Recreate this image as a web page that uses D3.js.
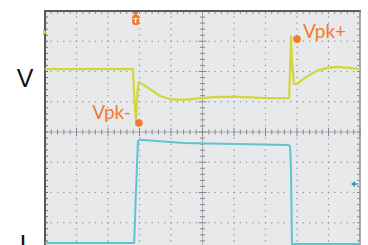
<!DOCTYPE html>
<html><head><meta charset="utf-8">
<script src="https://cdn.jsdelivr.net/npm/d3@7/dist/d3.min.js"></script>
<style>html,body{margin:0;padding:0;background:#fff;}svg{display:block;}</style>
</head><body>
<svg id="c" width="368" height="245"></svg>
<script>
// time in screen divisions, values in vertical divisions
const vTime = [0, 2.79, 2.84, 2.89, 2.94, 2.98, 3.08, 3.33, 3.65, 3.97, 4.41, 4.92, 5.46, 6.19, 7.05, 7.75, 7.79, 7.81, 7.84, 7.9, 8.0, 8.25, 8.63, 8.95, 9.27, 9.68, 10];
const vVals = [2.08, 2.08, 1.06, 0.36, 1.39, 1.65, 1.59, 1.42, 1.19, 1.09, 1.06, 1.12, 1.16, 1.16, 1.12, 1.12, 2.38, 3.17, 2.38, 1.59, 1.59, 1.79, 2.02, 2.12, 2.15, 2.12, 2.08];
const iTime = [0, 2.83, 2.89, 2.95, 3.02, 4.41, 7.71, 7.78, 7.81, 7.84, 10];
const iVals = [-3.67, -3.67, -1.92, -0.3, -0.26, -0.36, -0.43, -0.46, -1.26, -3.7, -3.7];
const peakLabels = ["Vpk+", "Vpk-"];
const peakTimes = [8.0, 2.98];
const peakVals = [3.07, 0.3];
const channelLabels = ["V", "I"];
const xDivs = d3.range(0, 10.001, 1);
const yDivs = d3.range(-4, 4.001, 1);

const svg = d3.select("#c");
const x = d3.scaleLinear().domain([0, 10]).range([45, 360]);
const y = d3.scaleLinear().domain([-4, 4]).range([253, 11]);

svg.append("rect").attr("x", x(0)).attr("y", y(4)).attr("width", x(10) - x(0)).attr("height", y(-4) - y(4)).attr("fill", "#e8e9eb");

const minorX = d3.range(0, 10.001, 0.2);
const minorY = d3.range(-4, 4.001, 0.2);
const g = svg.append("g");
// dotted grid
xDivs.filter(d => d > 0 && d < 10 && d !== 5).forEach(d => {
  g.selectAll(null).data(minorY).enter().append("rect")
    .attr("x", x(d) - 0.6).attr("y", v => y(v) - 0.6).attr("width", 1.2).attr("height", 1.2).attr("fill", "#8d8f93");
});
yDivs.filter(d => d > -4 && d < 4 && d !== 0).forEach(d => {
  g.selectAll(null).data(minorX).enter().append("rect")
    .attr("x", t => x(t) - 0.6).attr("y", y(d) - 0.6).attr("width", 1.2).attr("height", 1.2).attr("fill", "#8d8f93");
});
// center axes
g.append("line").attr("x1", x(0)).attr("x2", x(10)).attr("y1", y(0)).attr("y2", y(0)).attr("stroke", "#a9abaf").attr("stroke-width", 1);
g.append("line").attr("x1", x(5)).attr("x2", x(5)).attr("y1", y(4)).attr("y2", y(-4)).attr("stroke", "#a9abaf").attr("stroke-width", 1);
g.selectAll(null).data(minorX).enter().append("line")
  .attr("x1", t => x(t)).attr("x2", t => x(t))
  .attr("y1", t => y(0) - (Math.abs(t - Math.round(t)) < 1e-6 ? 4 : 2.5))
  .attr("y2", t => y(0) + (Math.abs(t - Math.round(t)) < 1e-6 ? 4 : 2.5))
  .attr("stroke", "#85878b").attr("stroke-width", 1);
g.selectAll(null).data(minorY).enter().append("line")
  .attr("y1", v => y(v)).attr("y2", v => y(v))
  .attr("x1", v => x(5) - (Math.abs(v - Math.round(v)) < 1e-6 ? 4 : 2.5))
  .attr("x2", v => x(5) + (Math.abs(v - Math.round(v)) < 1e-6 ? 4 : 2.5))
  .attr("stroke", "#85878b").attr("stroke-width", 1);
// border ticks
g.selectAll(null).data(minorY).enter().append("line")
  .attr("y1", v => y(v)).attr("y2", v => y(v)).attr("x1", x(0)).attr("x2", x(0) + 3)
  .attr("stroke", "#6d6f73").attr("stroke-width", 1);
g.selectAll(null).data(minorY).enter().append("line")
  .attr("y1", v => y(v)).attr("y2", v => y(v)).attr("x1", x(10) - 3).attr("x2", x(10))
  .attr("stroke", "#8d8f93").attr("stroke-width", 1);
g.selectAll(null).data(minorX).enter().append("line")
  .attr("x1", t => x(t)).attr("x2", t => x(t)).attr("y1", y(4)).attr("y2", y(4) + 3)
  .attr("stroke", "#8d8f93").attr("stroke-width", 1);
// borders
g.append("line").attr("x1", x(0)).attr("x2", x(0)).attr("y1", y(4) - 1).attr("y2", 245).attr("stroke", "#58595c").attr("stroke-width", 2);
g.append("line").attr("x1", x(0) - 1).attr("x2", x(10) + 1).attr("y1", y(4)).attr("y2", y(4)).attr("stroke", "#58595c").attr("stroke-width", 2);
g.append("line").attr("x1", x(10)).attr("x2", x(10)).attr("y1", y(4)).attr("y2", 245).attr("stroke", "#8a8c90").attr("stroke-width", 1.5);

// traces
const line = d3.line().x(d => x(d[0])).y(d => y(d[1])).curve(d3.curveMonotoneX);
svg.append("path").datum(vTime.map((t, i) => [t, vVals[i]])).attr("d", d3.line().x(d => x(d[0])).y(d => y(d[1])))
  .attr("fill", "none").attr("stroke", "#d3d63a").attr("stroke-width", 2.2).attr("stroke-linejoin", "round");
svg.append("path").datum(iTime.map((t, i) => [t, iVals[i]])).attr("d", d3.line().x(d => x(d[0])).y(d => y(d[1])))
  .attr("fill", "none").attr("stroke", "#5cc5cf").attr("stroke-width", 2).attr("stroke-linejoin", "round");

// channel markers
svg.append("path").attr("d", `M${x(0)-2},${y(3.3)-3}L${x(0)+2},${y(3.3)}L${x(0)-2},${y(3.3)+3}Z`).attr("fill", "#d3d63a");
svg.append("path").attr("d", `M${x(10)-9},${y(-1.72)}L${x(10)-5},${y(-1.72)-3}L${x(10)-5},${y(-1.72)+3}Z M${x(10)-6},${y(-1.72)-0.7}h4v1.4h-4Z`).attr("fill", "#2f9aa6");

// trigger marker
const tx = x(2.88);
svg.append("path").attr("d", `M${tx-3},${y(4)+1}L${tx+3},${y(4)+1}L${tx},${y(4)+5}Z`).attr("fill", "#f07a2a");
svg.append("rect").attr("x", tx - 3.5).attr("y", y(4) + 4).attr("width", 7).attr("height", 10).attr("rx", 2).attr("fill", "#f07a2a");
svg.append("text").attr("x", tx).attr("y", y(4) + 12).attr("text-anchor", "middle").attr("font-family", "Liberation Sans").attr("font-size", 8).attr("font-weight", "bold").attr("fill", "#fff").text("T");

// peak markers
const orange = "#f47a2e";
peakLabels.forEach((lab, i) => {
  svg.append("circle").attr("cx", x(peakTimes[i])).attr("cy", y(peakVals[i])).attr("r", 3.8).attr("fill", orange);
  const plus = i === 0;
  svg.append("text")
    .attr("x", plus ? x(peakTimes[i]) + 6 : x(peakTimes[i]) - 8)
    .attr("y", plus ? y(peakVals[i]) - 1 : y(peakVals[i]) - 4)
    .attr("text-anchor", plus ? "start" : "end")
    .attr("font-family", "Lato, 'Open Sans', sans-serif").attr("font-size", 19).attr("fill", orange).text(lab);
});

// channel labels
svg.append("text").attr("x", 25).attr("y", 87).attr("text-anchor", "middle").attr("font-family", "Liberation Sans, Arial, sans-serif").attr("font-size", 25).attr("fill", "#111").text(channelLabels[0]);
svg.append("text").attr("x", 23).attr("y", 253).attr("text-anchor", "middle").attr("font-family", "Liberation Sans, Arial, sans-serif").attr("font-size", 25).attr("fill", "#111").text(channelLabels[1]);
</script>
</body></html>
